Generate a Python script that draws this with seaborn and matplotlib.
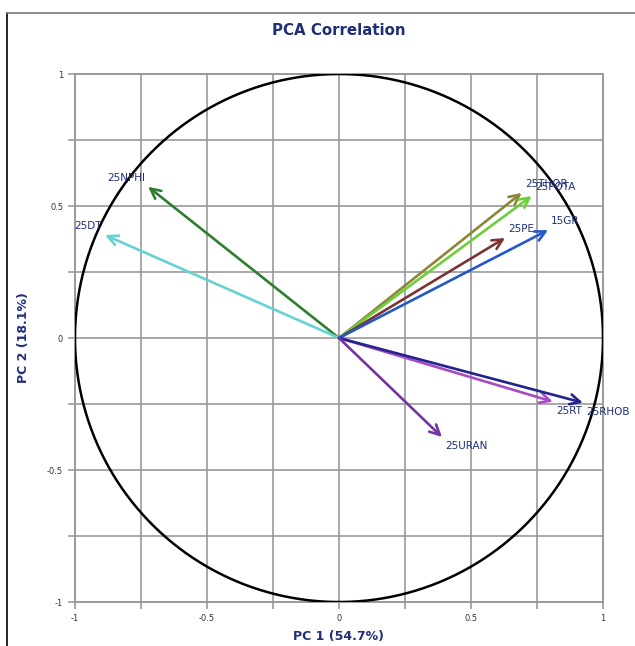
import numpy as np
import pandas as pd
import seaborn as sns
import matplotlib.pyplot as plt
from matplotlib.ticker import MultipleLocator, FixedFormatter, FixedLocator
from matplotlib.lines import Line2D

# Variable loadings on the first two principal components
variables = ["25NPHI", "25DT", "25THOR", "25POTA", "25PE", "15GR", "25RT", "25RHOB", "25URAN"]
pc1 = [-0.723, -0.886, 0.692, 0.730, 0.629, 0.792, 0.810, 0.924, 0.390]
pc2 = [0.573, 0.390, 0.550, 0.538, 0.379, 0.409, -0.241, -0.245, -0.375]
colors = ["#2f7f30", "#66d2d2", "#8c8636", "#6ccf3a", "#7a3434", "#2457c8", "#a64bc4", "#23238e", "#7434a0"]

tick_values = [-1, -0.5, 0, 0.5, 1]
tick_labels = ["-1", "-0.5", "0", "0.5", "1"]

loadings = pd.DataFrame({"variable": variables, "PC1": pc1, "PC2": pc2, "color": colors})

sns.set_style("white")
navy = "#1f2f78"
grid_c = "#9a9a9a"

fig = plt.figure(figsize=(6.35, 6.46), dpi=100)
ax = fig.add_axes([0.1181, 0.0681, 0.8315, 0.8173])

# unit correlation circle
theta = np.linspace(0, 2 * np.pi, 400)
circle = pd.DataFrame({"x": np.cos(theta), "y": np.sin(theta)})
sns.lineplot(data=circle, x="x", y="y", sort=False, estimator=None,
             color="black", linewidth=1.8, ax=ax, zorder=3)

# loading vectors
for _, r in loadings.iterrows():
    ax.annotate("", xy=(r.PC1, r.PC2), xytext=(0, 0),
                arrowprops=dict(arrowstyle="->", color=r.color, lw=1.9,
                                mutation_scale=18, shrinkA=0, shrinkB=0),
                zorder=4)
    ha = "left" if r.PC1 > 0 else "right"
    va = "bottom" if r.PC2 > 0 else "top"
    dx = 0.012 if r.PC1 > 0 else -0.012
    dy = 0.015 if r.PC2 > 0 else -0.015
    ax.text(r.PC1 + dx, r.PC2 + dy, r.variable, ha=ha, va=va,
            fontsize=7.5, color=navy, zorder=5)

ax.set_xlim(-1, 1)
ax.set_ylim(-1, 1)
for axis in (ax.xaxis, ax.yaxis):
    axis.set_major_locator(FixedLocator(tick_values))
    axis.set_major_formatter(FixedFormatter(tick_labels))
    axis.set_minor_locator(MultipleLocator(0.25))

ax.grid(True, which="both", color=grid_c, linewidth=1.2, zorder=0)
ax.set_axisbelow(True)
ax.tick_params(which="both", direction="out", length=5, width=1.2, color=grid_c,
               labelsize=6, labelcolor="#333333", left=True, bottom=True)
for side, sp in ax.spines.items():
    sp.set_color(grid_c)
    sp.set_linewidth(1.4)

ax.set_xlabel("PC 1 (54.7%)", fontsize=9, fontweight="bold", color=navy, labelpad=5)
ax.set_ylabel("PC 2 (18.1%)", fontsize=9, fontweight="bold", color=navy, labelpad=12)
fig.text(0.534, 0.953, "PCA Correlation", ha="center", va="center",
         fontsize=10.8, fontweight="bold", color=navy)

# page frame lines
fig.add_artist(Line2D([7 / 635, 7 / 635], [0, 1 - 13 / 646], color="black", lw=1.2,
                      transform=fig.transFigure))
fig.add_artist(Line2D([7 / 635, 1], [1 - 13 / 646, 1 - 13 / 646], color="#777777", lw=1.2,
                      transform=fig.transFigure))

fig.savefig("out.png", dpi=100)
